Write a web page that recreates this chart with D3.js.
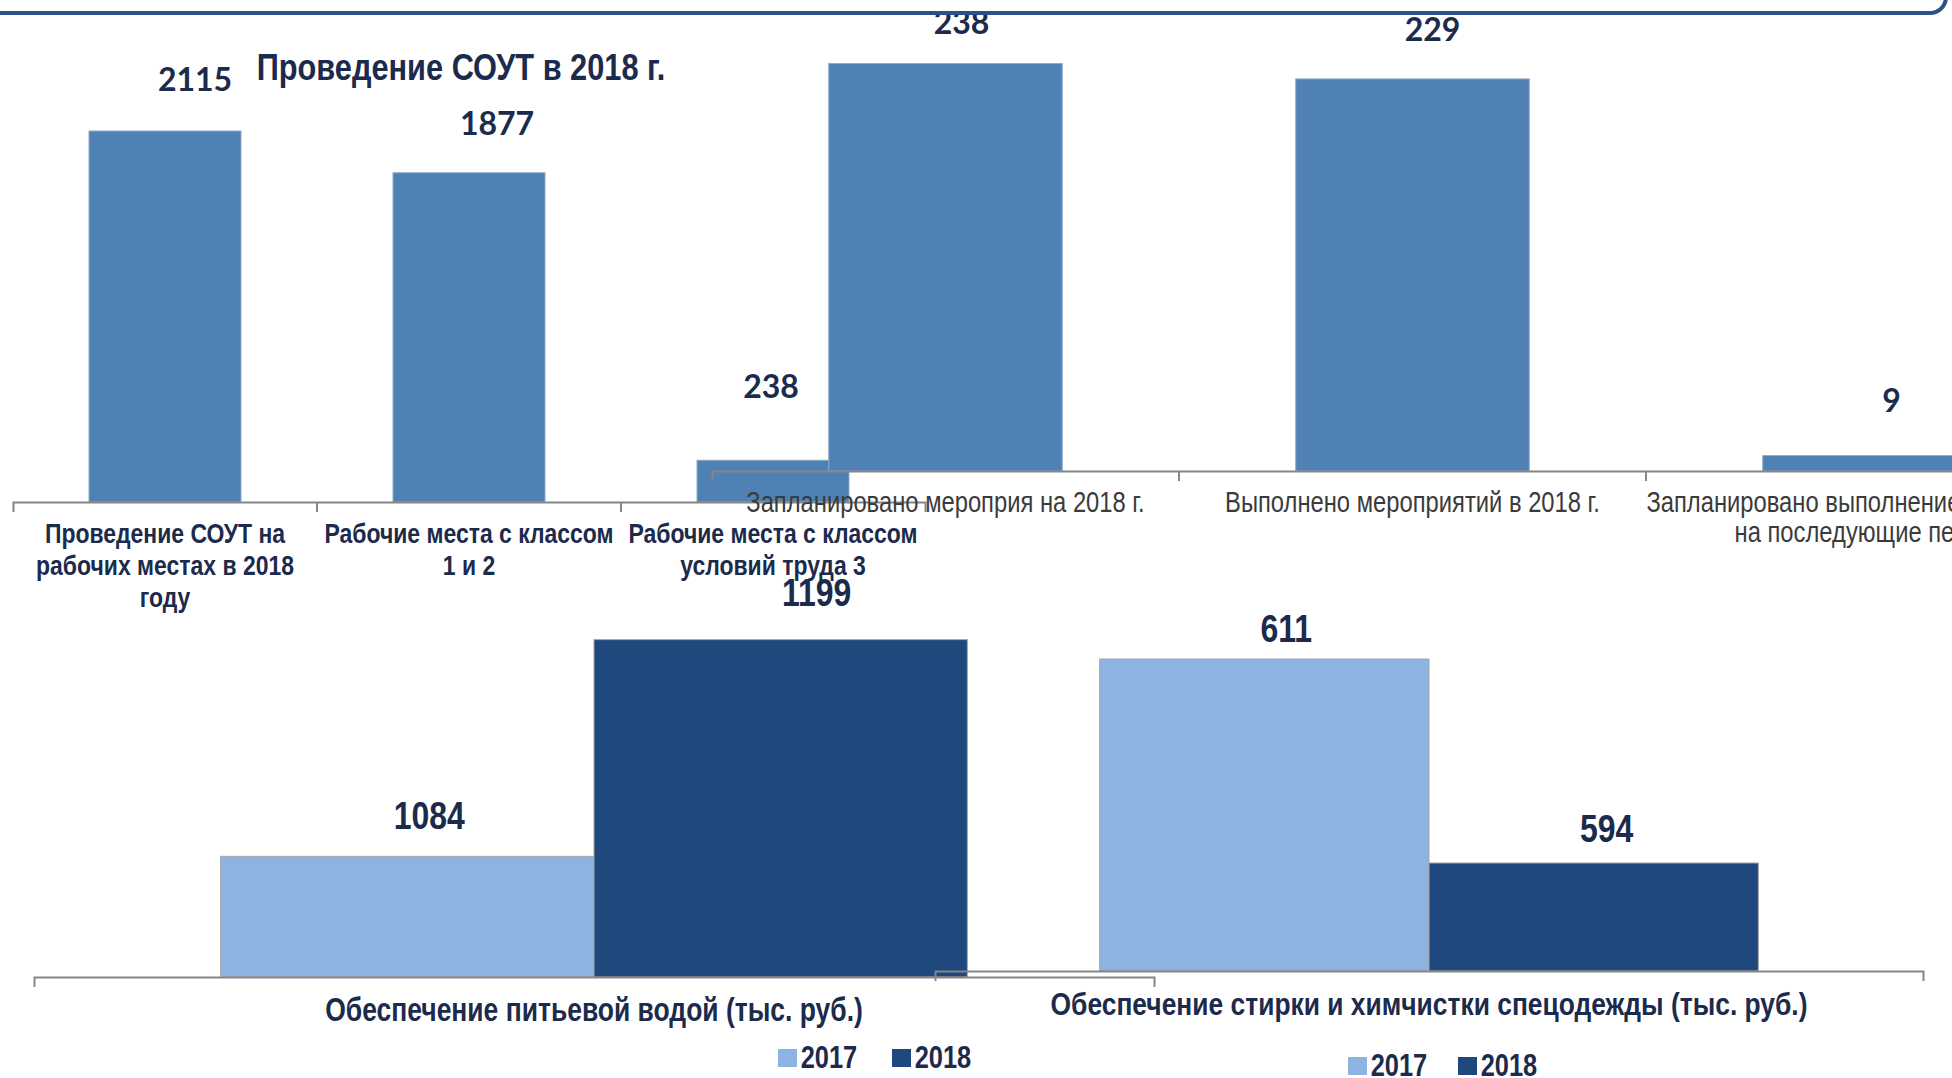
<!DOCTYPE html>
<html>
<head>
<meta charset="utf-8">
<script src="https://cdn.jsdelivr.net/npm/d3@7"></script>
<style>
  body { margin: 0; background: #fff; }
  svg { display: block; }
</style>
</head>
<body>
<div id="chart"></div>
<script>
// data
const soutTitle = "Проведение СОУТ в 2018 г.";
const soutCategories = [
  "Проведение СОУТ на\nрабочих местах в 2018\nгоду",
  "Рабочие места с классом\n1 и 2",
  "Рабочие места с классом\nусловий труда 3"
];
const soutValues = [2115, 1877, 238];

const eventCategories = [
  "Запланировано мероприя на 2018 г.",
  "Выполнено мероприятий в 2018 г.",
  "Запланировано выполнение мероприятий\nна последующие периоды"
];
const eventValues = [238, 229, 9];

const years = ["2017", "2018"];
const waterCategory = "Обеспечение питьевой водой (тыс. руб.)";
const waterValues = [1084, 1199];
const laundryCategory = "Обеспечение стирки и химчистки спецодежды (тыс. руб.)";
const laundryValues = [611, 594];

const width = 1952;
const height = 1078;
// no Arial Narrow here: Arial-metric font squeezed horizontally
const narrowFont = '"Liberation Sans", Arial, sans-serif';
const squeeze = 0.82;
const calibri = 'Lato, "Open Sans", sans-serif';
const navy = "#1c2a4c";
const axisColor = "#868686";
const yearColors = ["#8db3e2", "#1f497d"];

const svg = d3.select("#chart").append("svg")
  .attr("width", width)
  .attr("height", height);

svg.append("rect").attr("width", width).attr("height", height).attr("fill", "#fff");

// narrow text placed at (x, y)
function narrowText(parent, x, y, size, weight, color) {
  return parent.append("text")
    .attr("transform", `translate(${x}, ${y}) scale(${squeeze}, 1)`)
    .attr("text-anchor", "middle")
    .attr("font-family", narrowFont)
    .attr("font-weight", weight)
    .attr("font-size", size)
    .attr("fill", color);
}

function addLines(t, str, lineHeight) {
  str.split("\n").forEach((l, i) => {
    t.append("tspan").attr("x", 0).attr("dy", i === 0 ? 0 : lineHeight).text(l);
  });
}

// axis line with excel-like boundary ticks
function drawAxis(g, cats, left, right, axisY) {
  const xb = d3.scaleBand().domain(cats).range([left, right]);
  const ax = g.append("g")
    .attr("transform", `translate(0, ${axisY})`)
    .call(d3.axisBottom(xb).tickSize(0).tickSizeOuter(10).tickFormat(""));
  ax.select(".domain").attr("stroke", axisColor).attr("stroke-width", 2);
  ax.selectAll(".tick").remove();
  ax.selectAll("line.bound")
    .data(cats.slice(1))
    .enter()
    .append("line")
    .attr("x1", (d) => xb(d))
    .attr("x2", (d) => xb(d))
    .attr("y1", 0)
    .attr("y2", 10)
    .attr("stroke", axisColor)
    .attr("stroke-width", 2);
  return xb;
}

// simple one-series column chart (top charts)
function drawSimple(cats, values, o) {
  const g = svg.append("g");
  const right = o.left + o.step * cats.length;
  const x = d3.scaleBand().domain(cats).range([o.left, right]).paddingInner(0.5).paddingOuter(0.25);
  const y = d3.scaleLinear().domain([0, d3.max(values)]).range([o.axisY, o.top]);
  const rows = cats.map((c, i) => ({ cat: c, value: values[i], i: i }));

  g.selectAll("rect")
    .data(rows)
    .enter()
    .append("rect")
    .attr("x", (d) => x(d.cat))
    .attr("y", (d) => y(d.value))
    .attr("width", x.bandwidth())
    .attr("height", (d) => o.axisY - y(d.value))
    .attr("fill", "#4f81b5")
    .attr("stroke", "#8fa9c6")
    .attr("stroke-width", 1);

  const xb = drawAxis(g, cats, o.left, right, o.axisY);

  g.selectAll("text.val")
    .data(rows)
    .enter()
    .append("text")
    .attr("x", (d) => x(d.cat) + x.bandwidth() / 2 + o.labelDx[d.i])
    .attr("y", (d) => y(d.value) - o.labelDy[d.i])
    .attr("text-anchor", "middle")
    .attr("font-family", calibri)
    .attr("font-weight", "bold")
    .attr("font-size", o.valueSize)
    .attr("fill", navy)
    .text((d) => d.value);

  cats.forEach((c) => {
    const t = narrowText(g, xb(c) + xb.bandwidth() / 2, o.catY, o.catSize, o.catWeight, o.catColor);
    addLines(t, c, o.catLine);
  });
  return g;
}

// one category, two years (bottom charts)
function drawPair(cat, values, o) {
  const g = svg.append("g");
  const x = d3.scaleBand().domain([cat]).range([o.left, o.right]);
  const bw = x.bandwidth();
  const xs = d3.scaleBand().domain(years).range([bw / 6, bw * 5 / 6]);
  const y = d3.scaleLinear().domain(o.domain).range([o.axisY, o.top]);
  const rows = years.map((yr, i) => ({ year: yr, value: values[i], i: i }));

  g.selectAll("rect")
    .data(rows)
    .enter()
    .append("rect")
    .attr("x", (d) => x(cat) + xs(d.year))
    .attr("y", (d) => y(d.value))
    .attr("width", xs.bandwidth())
    .attr("height", (d) => o.axisY - y(d.value))
    .attr("fill", (d) => yearColors[d.i])
    .attr("stroke", "#a6a6a6")
    .attr("stroke-width", 1);

  drawAxis(g, [cat], o.left, o.right, o.axisY);

  rows.forEach((d) => {
    narrowText(g, x(cat) + xs(d.year) + xs.bandwidth() / 2 + o.labelDx[d.i],
      y(d.value) - o.labelDy[d.i], 39, "bold", navy).text(d.value);
  });

  narrowText(g, x(cat) + bw / 2, o.catY, o.catSize, "bold", navy).text(cat);

  // legend
  const leg = g.selectAll("g.leg")
    .data(years)
    .enter()
    .append("g")
    .attr("transform", (d, i) => `translate(${o.legendX + i * o.legendStep}, ${o.legendY})`);
  leg.append("rect")
    .attr("width", 19)
    .attr("height", 18)
    .attr("fill", (d, i) => yearColors[i]);
  leg.each(function (d) {
    narrowText(d3.select(this), 51, 19, 31, "bold", navy).text(d);
  });
  return g;
}

// chart A: СОУТ
const chartA = drawSimple(soutCategories, soutValues, {
  left: 13, step: 304, axisY: 502, top: 131,
  labelDx: [30, 28, -2], labelDy: [40, 38, 62], valueSize: 32,
  catY: 543, catLine: 32, catSize: 28, catWeight: "bold", catColor: navy
});
narrowText(chartA, 461, 80, 37.5, "bold", navy).text(soutTitle);

// chart B: мероприятия
drawSimple(eventCategories, eventValues, {
  left: 712, step: 467, axisY: 471, top: 63.5,
  labelDx: [16, 20, 12], labelDy: [30, 38, 44], valueSize: 32,
  catY: 512, catLine: 30, catSize: 29, catWeight: "normal", catColor: "#3b3b3b"
});

// chart C: питьевая вода
drawPair(waterCategory, waterValues, {
  left: 34, right: 1154, axisY: 977, top: 600, domain: [1020, 1220],
  labelDx: [22, 36], labelDy: [27, 34], catY: 1021, catSize: 32.3,
  legendX: 778, legendStep: 114, legendY: 1049
});

// chart D: стирка
drawPair(laundryCategory, laundryValues, {
  left: 935, right: 1923, axisY: 971, top: 611, domain: [585, 615],
  labelDx: [22, 13], labelDy: [17, 21], catY: 1015, catSize: 32.2,
  legendX: 1348, legendStep: 110, legendY: 1057
});

// frame of the slide block above
svg.append("rect")
  .attr("x", -30)
  .attr("y", -200)
  .attr("width", 1976)
  .attr("height", 213)
  .attr("rx", 16)
  .attr("fill", "#fff")
  .attr("stroke", "#2a5286")
  .attr("stroke-width", 4);
</script>
</body>
</html>
